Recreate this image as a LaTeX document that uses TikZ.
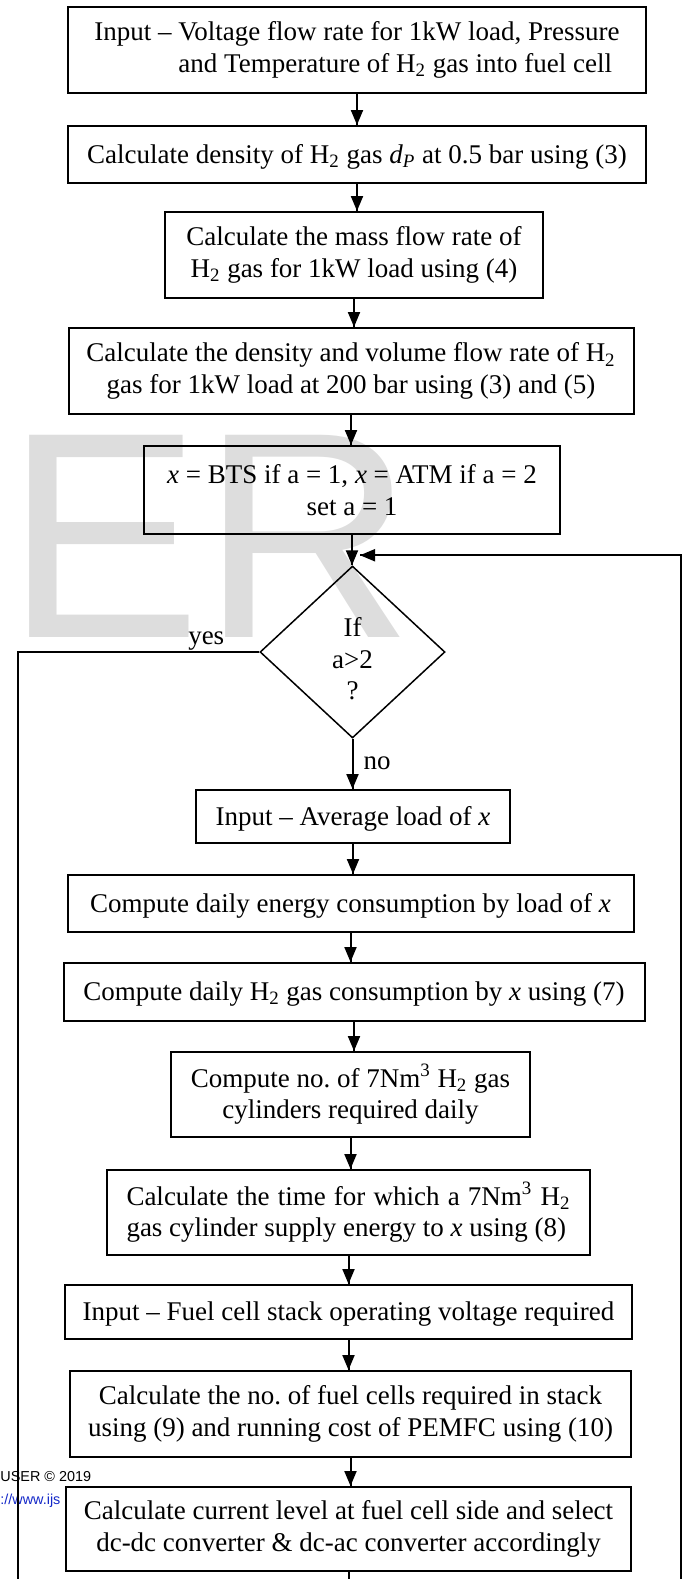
\documentclass[tikz,border=0pt]{standalone}
\usepackage{fontspec}
\setmainfont{Liberation Serif}
\setsansfont{Liberation Sans}
\usepackage{tikz}
\usetikzlibrary{calc}
\usetikzlibrary{arrows.meta,decorations.markings,shapes.geometric}

\definecolor{wmgray}{RGB}{221,221,221}
\definecolor{linkblue}{RGB}{20,40,200}

\begin{document}
\begin{tikzpicture}[x=0.5pt, y=-0.5pt,
	box/.style={draw, line width=1pt, inner sep=0pt, align=center, font=\fontsize{13.5}{15.75}\selectfont,
		execute at begin node={\rule{0pt}{11.5pt}}},
	decision/.style={draw, diamond, line width=0.75pt, inner sep=0pt},
	lbl/.style={inner sep=0pt, font=\fontsize{13.5}{15.75}\selectfont},
	conn/.style={line width=1pt},
	arr/.style={conn, decoration={markings,mark=at position 1 with {\arrow{Triangle[length=7.5pt,width=6pt]}}},postaction={decorate}}]
			\useasboundingbox (0,0) rectangle (683,1579);

			% watermark and page footer behind the chart
			\node[anchor=base west, inner sep=0pt, text=wmgray, font=\fontsize{147}{147}\sffamily] (wm) at (5,637) {ER};
			\node[anchor=base west, inner sep=0pt, font=\fontsize{7.2}{8}\sffamily] (cpy) at (0,1481) {USER © 2019};
			\node[anchor=base west, inner sep=0pt, text=linkblue, font=\fontsize{7.2}{8}\sffamily] (url) at (0,1504) {://www.ijs};

			\node[box, align=left, minimum width=289pt, minimum height=43pt] (b1) at (357,50)
				{Input -- Voltage flow rate for 1kW load, Pressure\\ \hspace*{42pt}and Temperature of H\textsubscript{2} gas into fuel cell};
			\node[box, minimum width=289pt, minimum height=28.5pt] (b2) at ($(b1)+(0,104.5)$)
				{Calculate density of H\textsubscript{2} gas \textit{d}\textsubscript{\textit{P}} at 0.5 bar using (3)};
			\node[box, minimum width=189pt, minimum height=43pt] (b3) at ($(b2)+(-3,100.5)$)
				{Calculate the mass flow rate of\\ H\textsubscript{2} gas for 1kW load using (4)};
			\node[box, minimum width=282.5pt, minimum height=43pt] (b4) at ($(b3)+(-3,116)$)
				{Calculate the density and volume flow rate of H\textsubscript{2}\\ gas for 1kW load at 200 bar using (3) and (5)};
			\node[box, minimum width=208pt, minimum height=44pt] (b5) at ($(b4)+(1,119)$)
				{\textit{x} = BTS if a = 1, \textit{x} = ATM if a = 2\\ set a = 1};

			\node[decision, minimum width=92.5pt, minimum height=86pt] (dec) at ($(b5)+(0.5,162)$) {};
			\node[lbl, align=center] (cond) at ($(dec)+(0,7)$) {If\\ a>2\\ ?};
			\node[lbl] (yes) at ($(dec.west)+(-53,-11)$) {yes};
			\node[lbl] (no) at ($(dec.south)+(24.5,25)$) {no};

			\node[box, minimum width=157pt, minimum height=26.5pt] (b6) at ($(dec)+(0.5,164.5)$)
				{Input -- Average load of \textit{x}};
			\node[box, minimum width=283pt, minimum height=28.5pt] (b7) at ($(b6)+(-2.5,87)$)
				{Compute daily energy consumption by load of \textit{x}};
			\node[box, minimum width=290.5pt, minimum height=29pt] (b8) at ($(b7)+(3.5,88.5)$)
				{Compute daily H\textsubscript{2} gas consumption by \textit{x} using (7)};
			\node[box, minimum width=179.5pt, minimum height=42.5pt] (b9) at ($(b8)+(-3.5,102.5)$)
				{Compute no.\ of 7Nm\textsuperscript{3} H\textsubscript{2} gas\\ cylinders required daily};
			\node[box, text width=222pt, align=justify, minimum width=241.5pt, minimum height=42.5pt] (b10) at ($(b9)+(-2,118)$)
				{Calculate the time for which a 7Nm\textsuperscript{3} H\textsubscript{2} gas cylinder supply energy to \textit{x} using (8)};
			\node[box, minimum width=283.5pt, minimum height=27pt] (b11) at ($(b10)+(0,99.5)$)
				{Input -- Fuel cell stack operating voltage required};
			\node[box, minimum width=280.5pt, minimum height=43pt] (b12) at ($(b11)+(2,102)$)
				{Calculate the no.\ of fuel cells required in stack\\ using (9) and running cost of PEMFC using (10)};
			\node[box, minimum width=282.5pt, minimum height=42pt] (b13) at ($(b12)+(-2,115)$)
				{Calculate current level at fuel cell side and select\\ dc-dc converter \& dc-ac converter accordingly};

			\coordinate (lb) at (17.5,1600);
			\coordinate (rb) at (681,1600);
			\coordinate (fb) at ($(dec.north)+(7.5,-10)$);
			\coordinate (bot) at ($(b13.south)+(0,20)$);

			\draw[arr] (b1.south) -- (b1.south |- b2.north);
			\draw[arr] (b2.south) -- (b2.south |- b3.north);
			\draw[arr] (b3.south) -- (b3.south |- b4.north);
			\draw[arr] (b4.south) -- (b4.south |- b5.north);
			\draw[arr] (b5.south) -- (b5.south |- dec.north);
			\draw[arr] (dec.south) -- (dec.south |- b6.north);
			\draw[arr] (b6.south) -- (b6.south |- b7.north);
			\draw[arr] (b7.south) -- (b7.south |- b8.north);
			\draw[arr] (b8.south) -- (b8.south |- b9.north);
			\draw[arr] (b9.south) -- (b9.south |- b10.north);
			\draw[arr] (b10.south) -- (b10.south |- b11.north);
			\draw[arr] (b11.south) -- (b11.south |- b12.north);
			\draw[arr] (b12.south) -- (b12.south |- b13.north);
			\draw[conn] (b13.south) -- (bot);

			% loop back and exit
			\draw[arr] (rb) -- (rb |- fb) -- (fb);
			\draw[conn] (dec.west) -- (dec.west -| lb) -- (lb);

		\end{tikzpicture}
\end{document}
